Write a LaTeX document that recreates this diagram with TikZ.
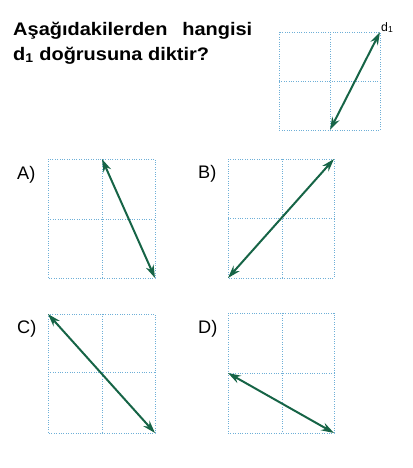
\documentclass[tikz,border=0pt]{standalone}
\usepackage{fontspec}
\setmainfont{Liberation Sans}
\newfontfamily\qfont[FakeStretch=1.1]{Liberation Sans}
\usetikzlibrary{arrows.meta}
\definecolor{gridblue}{RGB}{110,175,215}
\definecolor{dgreen}{RGB}{22,100,70}
\tikzset{
  gridline/.style={gridblue, line width=0.75pt, dash pattern=on 0.75pt off 1.3pt},
  dline/.style={dgreen, line width=1.7pt, {Stealth[length=11pt,width=7pt]}-{Stealth[length=11pt,width=7pt]}},
  choice/.style={anchor=base west, inner sep=0pt, font=\fontsize{15.5}{18}\selectfont},
  question/.style={anchor=base west, inner sep=0pt, font=\qfont\fontsize{15.5}{18}\selectfont\bfseries}
}
\begin{document}
\begin{tikzpicture}[x=0.03cm, y=-0.03cm]
        \useasboundingbox (0,0) rectangle (413,468);
        % question
        \node[question] (q1) at (13,35) {\makebox[204pt][s]{Aşağıdakilerden\hfill hangisi}};
        \node[question] (q2) at (13,60) {d\textsubscript{1} doğrusuna diktir?};
        % d1 grid
        \draw[gridline] (279,32) rectangle (380,130);
        \draw[gridline] (330,32) -- (330,130);
        \draw[gridline] (279,81) -- (380,81);
        \coordinate (d1a) at (330,130);
        \coordinate (d1b) at (380,32);
        \draw[dline] (d1a) -- (d1b);
        \node[anchor=base west, inner sep=0pt, font=\fontsize{10.5}{12}\selectfont] (d1) at (381,31) {d\textsubscript{1}};
        % A
        \node[choice] (la) at (17,179) {A)};
        \draw[gridline] (48,159) rectangle (155,278);
        \draw[gridline] (102,159) -- (102,278);
        \draw[gridline] (48,219) -- (155,219);
        \coordinate (a1) at (102,159);
        \coordinate (a2) at (155,278);
        \draw[dline] (a1) -- (a2);
        % B
        \node[choice] (lb) at (198,178) {B)};
        \draw[gridline] (228,159) rectangle (334,278);
        \draw[gridline] (282,159) -- (282,278);
        \draw[gridline] (228,218) -- (334,218);
        \coordinate (b1) at (228,278);
        \coordinate (b2) at (334,159);
        \draw[dline] (b1) -- (b2);
        % C
        \node[choice] (lc) at (17,333) {C)};
        \draw[gridline] (48,314) rectangle (155,433);
        \draw[gridline] (102,314) -- (102,433);
        \draw[gridline] (48,372) -- (155,372);
        \coordinate (c1) at (48,314);
        \coordinate (c2) at (155,433);
        \draw[dline] (c1) -- (c2);
        % D
        \node[choice] (ld) at (198,333) {D)};
        \draw[gridline] (228,313) rectangle (334,433);
        \draw[gridline] (282,313) -- (282,433);
        \draw[gridline] (228,373) -- (334,373);
        \coordinate (e1) at (228,373);
        \coordinate (e2) at (334,433);
        \draw[dline] (e1) -- (e2);
\end{tikzpicture}
\end{document}
